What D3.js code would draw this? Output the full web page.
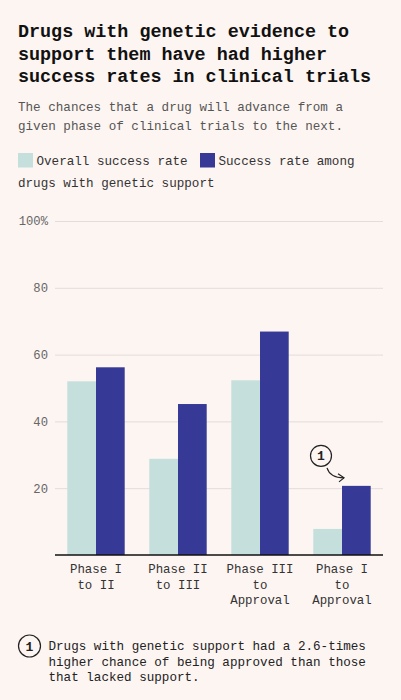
<!DOCTYPE html>
<html>
<head>
<meta charset="utf-8">
<script src="https://cdn.jsdelivr.net/npm/d3@7"></script>
<style>
  html, body { margin: 0; padding: 0; background: #fdf5f2; }
  svg { display: block; font-family: "Liberation Mono", "DejaVu Sans Mono", monospace; }
</style>
</head>
<body>
<svg id="chart"></svg>
<script>
(function() {

  const phases = ['Phase I|to II', 'Phase II|to III', 'Phase III|to|Approval', 'Phase I|to|Approval'];
  const overallRate = [52, 28.8, 52.3, 7.8];
  const geneticRate = [56.2, 45.2, 66.9, 20.7];
  const seriesNames = ['Overall success rate', 'Success rate among'];
  const yTicks = [20, 40, 60, 80, 100];

  const width = 401;
  const height = 700;
  const margin = { left: 55, right: 18, top: 221, bottom: 145 };
  const colors = ['#c4dfdc', '#363996'];

  const svg = d3.select('#chart')
    .attr('width', width)
    .attr('height', height);

  svg.append('rect')
    .attr('width', width)
    .attr('height', height)
    .attr('fill', '#fdf5f2');

  // title + subtitle
  const titleLines = ['Drugs with genetic evidence to', 'support them have had higher', 'success rates in clinical trials'];
  svg.append('g').selectAll('text')
    .data(titleLines)
    .enter()
    .append('text')
    .attr('x', 18)
    .attr('y', function(d, i) { return 37 + i * 22.5; })
    .style('font-size', '18.4px')
    .style('font-weight', 'bold')
    .attr('fill', '#111')
    .text(function(d) { return d; });

  const subLines = ['The chances that a drug will advance from a', 'given phase of clinical trials to the next.'];
  svg.append('g').selectAll('text')
    .data(subLines)
    .enter()
    .append('text')
    .attr('x', 18)
    .attr('y', function(d, i) { return 111 + i * 18.5; })
    .style('font-size', '12.6px')
    .attr('fill', '#555')
    .text(function(d) { return d; });

  // legend
  const legend = svg.append('g').attr('class', 'legend');
  const legendX = [18, 200];
  legend.selectAll('rect')
    .data(seriesNames)
    .enter()
    .append('rect')
    .attr('x', function(d, i) { return legendX[i]; })
    .attr('y', 153)
    .attr('width', 15)
    .attr('height', 14.5)
    .attr('fill', function(d, i) { return colors[i]; });
  legend.selectAll('text.lab')
    .data(seriesNames)
    .enter()
    .append('text')
    .attr('class', 'lab')
    .attr('x', function(d, i) { return legendX[i] + 18.5; })
    .attr('y', 165)
    .style('font-size', '12.6px')
    .attr('fill', '#333')
    .text(function(d) { return d; });
  legend.append('text')
    .attr('x', 18)
    .attr('y', 187)
    .style('font-size', '12.6px')
    .attr('fill', '#333')
    .text('drugs with genetic support');

  // scales
  const x0 = d3.scaleBand()
    .domain(phases)
    .range([margin.left, width - margin.right])
    .paddingInner(0.3)
    .paddingOuter(0.15);
  const x1 = d3.scaleBand()
    .domain([0, 1])
    .range([0, x0.bandwidth()]);
  const y = d3.scaleLinear()
    .domain([0, 100])
    .range([555, margin.top]);

  // grid
  const yAxis = d3.axisLeft(y)
    .tickValues(yTicks)
    .tickSize(-(width - margin.right - margin.left))
    .tickFormat(function(d) { return d === 100 ? '100%' : d; });
  const gy = svg.append('g')
    .attr('transform', 'translate(' + margin.left + ',0)')
    .call(yAxis);
  gy.select('.domain').remove();
  gy.selectAll('.tick line').attr('stroke', '#e2dcda').attr('stroke-width', 1);
  gy.selectAll('.tick text')
    .attr('x', -7)
    .attr('fill', '#666')
    .style('font-size', '12.2px')
    .style('font-family', '"Liberation Mono", "DejaVu Sans Mono", monospace');

  // bars
  const rows = phases.map(function(p, i) { return { phase: p, vals: [overallRate[i], geneticRate[i]] }; });
  const groups = svg.append('g').selectAll('g')
    .data(rows)
    .enter()
    .append('g')
    .attr('transform', function(d) { return 'translate(' + x0(d.phase) + ',0)'; });
  groups.selectAll('rect')
    .data(function(d) { return d.vals.map(function(v, k) { return { k: k, v: v }; }); })
    .enter()
    .append('rect')
    .attr('x', function(d) { return x1(d.k); })
    .attr('y', function(d) { return y(d.v); })
    .attr('width', x1.bandwidth())
    .attr('height', function(d) { return y(0) - y(d.v); })
    .attr('fill', function(d) { return colors[d.k]; });

  // baseline
  svg.append('line')
    .attr('x1', margin.left)
    .attr('x2', width - margin.right)
    .attr('y1', y(0))
    .attr('y2', y(0))
    .attr('stroke', '#111')
    .attr('stroke-width', 1.5);

  // x labels
  const xl = svg.append('g').selectAll('text')
    .data(phases)
    .enter()
    .append('text')
    .attr('x', function(d) { return x0(d) + x0.bandwidth() / 2; })
    .attr('y', 573)
    .attr('text-anchor', 'middle')
    .style('font-size', '12.4px')
    .attr('fill', '#333');
  xl.selectAll('tspan')
    .data(function(d) { return d.split('|'); })
    .enter()
    .append('tspan')
    .attr('x', function() { const p = this.parentNode; return p.getAttribute('x'); })
    .attr('dy', function(d, i) { return i === 0 ? 0 : 15.5; })
    .text(function(d) { return d; });

  // annotation on last bar
  const last = phases.length - 1;
  const barX = x0(phases[last]) + x1(1);
  const barTop = y(geneticRate[last]);
  const ann = svg.append('g');
  const cx = barX - 21, cy = barTop - 30;
  ann.append('circle')
    .attr('cx', cx).attr('cy', cy).attr('r', 10.5)
    .attr('fill', 'none').attr('stroke', '#222').attr('stroke-width', 1.2);
  ann.append('text')
    .attr('x', cx).attr('y', cy + 4.5)
    .attr('text-anchor', 'middle')
    .style('font-size', '13px')
    .style('font-weight', 'bold')
    .attr('fill', '#222')
    .text('1');
  const ax0 = cx + 6, ay0 = cy + 12, ax1 = barX + 2, ay1 = barTop - 8;
  ann.append('path')
    .attr('d', 'M' + ax0 + ',' + ay0 + ' Q' + (ax0 + 3) + ',' + (ay1) + ' ' + ax1 + ',' + ay1)
    .attr('fill', 'none').attr('stroke', '#222').attr('stroke-width', 1.2);
  ann.append('path')
    .attr('d', 'M' + (ax1 - 6) + ',' + (ay1 - 4) + ' L' + ax1 + ',' + ay1 + ' L' + (ax1 - 5) + ',' + (ay1 + 4))
    .attr('fill', 'none').attr('stroke', '#222').attr('stroke-width', 1.2);

  // footnote
  const foot = svg.append('g');
  foot.append('circle')
    .attr('cx', 29.5).attr('cy', 646).attr('r', 11)
    .attr('fill', 'none').attr('stroke', '#222').attr('stroke-width', 1.2);
  foot.append('text')
    .attr('x', 29.5).attr('y', 650.5)
    .attr('text-anchor', 'middle')
    .style('font-size', '13px')
    .style('font-weight', 'bold')
    .attr('fill', '#222')
    .text('1');
  const footLines = ['Drugs with genetic support had a 2.6-times', 'higher chance of being approved than those', 'that lacked support.'];
  foot.selectAll('text.fl')
    .data(footLines)
    .enter()
    .append('text')
    .attr('class', 'fl')
    .attr('x', 48.5)
    .attr('y', function(d, i) { return 650 + i * 15.5; })
    .style('font-size', '12.6px')
    .attr('fill', '#222')
    .text(function(d) { return d; });

})();
</script>
</body>
</html>
